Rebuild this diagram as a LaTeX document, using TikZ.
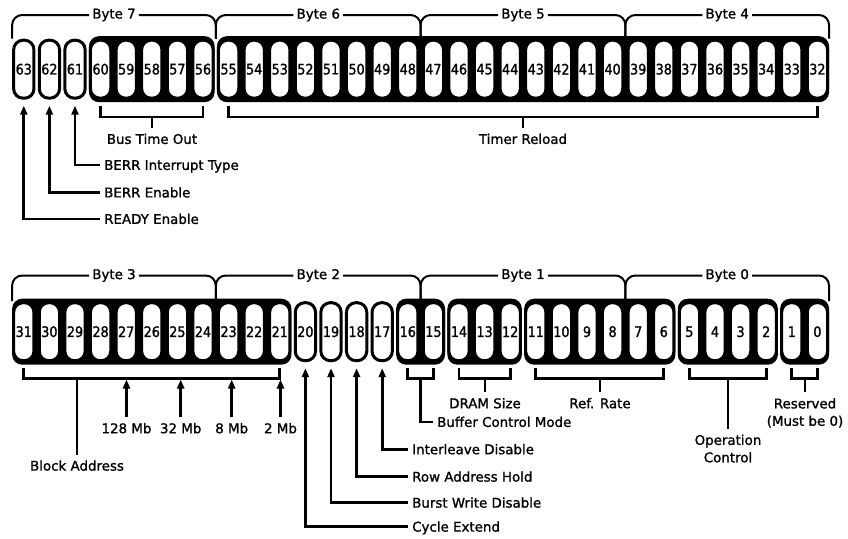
\documentclass[tikz,border=0pt]{standalone}
\usepackage{fontspec}
\setmainfont{DejaVu Sans}[FakeBold=1.2]
\newfontfamily\bitfont{DejaVu Sans}[FakeBold=1.2, FakeStretch=0.88]
\usetikzlibrary{%
    arrows.meta,%
    backgrounds,%
    calc%
}

\begin{document}
\begin{tikzpicture}[x=1pt, y=-1pt,
    every node/.style = {font=\fontsize{13.4}{17.4}\selectfont},
    bitcell/.style = {draw, line width=3pt, fill=white, rounded corners=9.5pt,
        minimum width=20.3pt, minimum height=58pt, inner sep=0pt,
        font=\bitfont\fontsize{14.5}{17}\selectfont},
    field/.style = {fill=black, rounded corners=10pt},
    brace/.style = {line width=2pt, rounded corners=10pt},
    bytelbl/.style = {inner xsep=3pt, inner ysep=0pt},
    brk/.style = {line width=2.7pt},
    lead/.style = {line width=2.7pt, -{Triangle[length=9pt,width=7pt]}},
    lbl/.style = {text height=9.8pt, text depth=0pt, inner xsep=4pt, inner ysep=6pt},
    lbltwo/.style = {align=center, inner xsep=4pt, inner ysep=6pt}
]
    \useasboundingbox (0,0) rectangle (848,538);

    % Define the bit cells
    \foreach \b in {63,...,32}
        \node[bitcell] (c\b) at ({23.8+25.6*(63-\b)}, 69.2) {\b};
    \foreach \b in {31,...,0}
        \node[bitcell] (c\b) at ({23.8+25.6*(31-\b)}, 331.7) {\b};

    % Draw the fields behind the cells
    \begin{scope}[on background layer]
        \foreach \hi/\lo in {60/56, 55/32, 31/21, 16/15, 14/12, 11/6, 5/2, 1/0}
            \fill[field] ([yshift=2.5pt]c\hi.north west) rectangle ([yshift=-2.5pt]c\lo.south east);
    \end{scope}

    % Define byte boundaries
    \coordinate (e76) at ($(c56.north east)!0.5!(c55.north west)$);
    \coordinate (e65) at ($(c48.north east)!0.5!(c47.north west)$);
    \coordinate (e54) at ($(c40.north east)!0.5!(c39.north west)$);
    \coordinate (e32) at ($(c24.north east)!0.5!(c23.north west)$);
    \coordinate (e21) at ($(c16.north east)!0.5!(c15.north west)$);
    \coordinate (e10) at ($(c8.north east)!0.5!(c7.north west)$);

    % Draw the byte braces
    \node[bytelbl] (b7) at (114,15) {Byte 7};
    \node[bytelbl] (b6) at (318.3,15) {Byte 6};
    \node[bytelbl] (b5) at (523,15) {Byte 5};
    \node[bytelbl] (b4) at (727.2,15) {Byte 4};
    \draw[brace] (c63.north west) |- (b7.west);
    \draw[brace] (b7.east) -| (e76);
    \draw[brace] (e76) |- (b6.west);
    \draw[brace] (b6.east) -| (e65);
    \draw[brace] (e65) |- (b5.west);
    \draw[brace] (b5.east) -| (e54);
    \draw[brace] (e54) |- (b4.west);
    \draw[brace] (b4.east) -| (c32.north east);

    \node[bytelbl] (b3) at (114,275.5) {Byte 3};
    \node[bytelbl] (b2) at (318.3,275.5) {Byte 2};
    \node[bytelbl] (b1) at (523,275.5) {Byte 1};
    \node[bytelbl] (b0) at (727.2,275.5) {Byte 0};
    \draw[brace] (c31.north west) |- (b3.west);
    \draw[brace] (b3.east) -| (e32);
    \draw[brace] (e32) |- (b2.west);
    \draw[brace] (b2.east) -| (e21);
    \draw[brace] (e21) |- (b1.west);
    \draw[brace] (b1.east) -| (e10);
    \draw[brace] (e10) |- (b0.west);
    \draw[brace] (b0.east) -| (c0.north east);

    % Bracket levels
    \coordinate (lt) at (0,117);
    \coordinate (lb) at (0,378.5);

    % Upper register fields
    \foreach \hi/\lo in {60/56, 55/32}
        \draw[brk] ([yshift=-6pt]c\hi.south) -- (c\hi |- lt) -- (c\lo |- lt) -- ([yshift=-6pt]c\lo.south);
    \node[lbl] (bto) at (152,139) {Bus Time Out};
    \node[lbl] (trl) at (523,139) {Timer Reload};
    \draw[brk] (bto.north) -- (bto |- lt);
    \draw[brk] (trl.north) -- (trl |- lt);

    \node[lbl, anchor=west] (bit) at (100,165) {BERR Interrupt Type};
    \node[lbl, anchor=west] (ben) at (100,192.5) {BERR Enable};
    \node[lbl, anchor=west] (rdy) at (100,219) {READY Enable};
    \draw[lead] (bit.west) -| ([yshift=-6pt]c61.south);
    \draw[lead] (ben.west) -| ([yshift=-6pt]c62.south);
    \draw[lead] (rdy.west) -| ([yshift=-6pt]c63.south);

    % Lower register fields
    \foreach \hi/\lo in {31/21, 16/15, 14/12, 11/6, 5/2, 1/0}
        \draw[brk] ([yshift=-6pt]c\hi.south) -- (c\hi |- lb) -- (c\lo |- lb) -- ([yshift=-6pt]c\lo.south);

    \node[lbl] (blk) at (77,465.7) {Block Address};
    \draw[brk] (blk.north) -- (blk |- lb);
    \node[lbl] (m128) at (126.5,428.3) {128 Mb};
    \node[lbl] (m32) at (180.7,428.3) {32 Mb};
    \node[lbl] (m8) at (231.7,428.3) {8 Mb};
    \node[lbl] (m2) at (280.5,428.3) {2 Mb};
    \foreach \m in {m128, m32, m8, m2}
        \draw[lead, shorten >=1pt] (\m.north) -- (\m |- lb);

    \node[lbl, anchor=west] (ild) at (408,449.3) {Interleave Disable};
    \node[lbl, anchor=west] (rah) at (408,476.7) {Row Address Hold};
    \node[lbl, anchor=west] (bwd) at (408,502.7) {Burst Write Disable};
    \node[lbl, anchor=west] (cex) at (408,526.7) {Cycle Extend};
    \draw[lead] (ild.west) -| ([yshift=-6pt]c17.south);
    \draw[lead] (rah.west) -| ([yshift=-6pt]c18.south);
    \draw[lead] (bwd.west) -| ([yshift=-6pt]c19.south);
    \draw[lead] (cex.west) -| ([yshift=-6pt]c20.south);

    \coordinate (m1615) at ($(c16)!0.5!(c15)$);
    \node[lbl, anchor=west] (bcm) at (433,422) {Buffer Control Mode};
    \draw[brk] (bcm.west) -| (m1615 |- lb);

    \node[lbl] (drs) at (485,403.3) {DRAM Size};
    \node[lbl] (rfr) at (600,403.3) {Ref. Rate};
    \node[lbltwo, anchor=north] (opc) at (728,428.5) {Operation\\Control};
    \node[lbltwo, anchor=north] (rsv) at (805,392) {Reserved\\(Must be 0)};
    \foreach \f in {drs, rfr, opc, rsv}
        \draw[brk] (\f.north) -- (\f |- lb);
\end{tikzpicture}
\end{document}
